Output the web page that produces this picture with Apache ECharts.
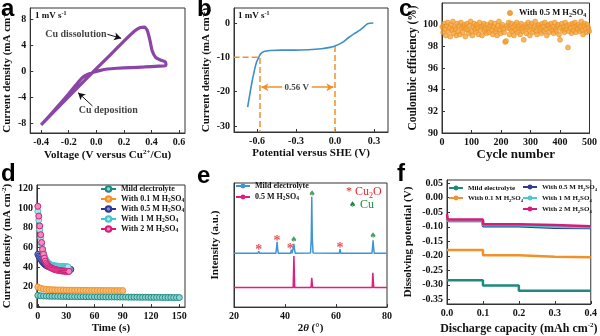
<!DOCTYPE html>
<html><head><meta charset="utf-8">
<script src="https://cdn.jsdelivr.net/npm/echarts@6/dist/echarts.min.js"></script>
<style>html,body{margin:0;padding:0;background:#fff}#c{width:600px;height:336px}</style>
</head><body><div id="c"></div>
<script>
const F='"Liberation Serif","Times New Roman",serif';
const FS='"Liberation Sans",Arial,sans-serif';

// ---------- panel a : CV loop ----------
const aForward=[[-0.4,-8.3],[-0.3,-6.1],[-0.2,-3.95],[-0.1,-1.8],[0,0.35],[0.1,2.45],[0.2,4.6],[0.28,6.2],[0.32,6.7],[0.35,6.75],[0.37,6.2],[0.39,4.6],[0.405,3.1],[0.43,2.1],[0.47,1.65],[0.5,1.4],[0.505,1.0]];
const aReverse=[[0.505,1.0],[0.5,0.8],[0.45,0.75],[0.35,0.62],[0.25,0.52],[0.15,0.42],[0.08,0.3],[0.03,0.1],[-0.02,-0.2],[-0.06,-0.5],[-0.1,-1.0],[-0.15,-2.2],[-0.2,-3.5],[-0.3,-5.95],[-0.4,-8.3]];
const aXTicks=[-0.4,-0.2,0,0.2,0.4,0.6];
const aYTicks=[-8,-4,0,4,8];
const aNotes=[{t:'Cu dissolution',p:[-0.148,5.65]},{t:'Cu deposition',p:[0.087,-6.0]}];
const aArrows=[[[0.08,5.65],[0.18,5.03]],[[-0.028,-5.38],[-0.132,-3.33]]];

// ---------- panel b : LSV ----------
const bCurve=[[-0.672,-24.5],[-0.659,-21.6],[-0.641,-17.7],[-0.623,-14.3],[-0.605,-11.6],[-0.588,-10.1],[-0.572,-9.0],[-0.546,-8.3],[-0.5,-8.0],[-0.41,-7.9],[-0.31,-7.9],[-0.205,-7.8],[-0.103,-7.5],[-0.038,-7.1],[0,-6.7],[0.051,-5.8],[0.103,-4.3],[0.149,-3.1],[0.192,-2.1],[0.226,-1.0],[0.251,-0.2],[0.295,0]];
const bGuide1=[[-0.78,-10],[-0.577,-10],[-0.577,-31.75]];
const bGuide2=[[0,-6.7],[0,-31.75]];
const bArrows=[[[-0.405,-18.7],[-0.566,-18.7]],[[-0.179,-18.7],[-0.012,-18.7]]];
const bNote={t:'0.56 V',p:[-0.295,-18.7]};
const bXTicks=[-0.6,-0.3,0,0.3];
const bYTicks=[-30,-20,-10,0];

// ---------- panel c : Coulombic efficiency (cycles 1,4,7,...,499) ----------
const cCycles=[1,4,7,10,13,16,19,22,25,28,31,34,37,40,43,46,49,52,55,58,61,64,67,70,73,76,79,82,85,88,91,94,97,100,103,106,109,112,115,118,121,124,127,130,133,136,139,142,145,148,151,154,157,160,163,166,169,172,175,178,181,184,187,190,193,196,199,202,205,208,211,214,217,220,223,226,229,232,235,238,241,244,247,250,253,256,259,262,265,268,271,274,277,280,283,286,289,292,295,298,301,304,307,310,313,316,319,322,325,328,331,334,337,340,343,346,349,352,355,358,361,364,367,370,373,376,379,382,385,388,391,394,397,400,403,406,409,412,415,418,421,424,427,430,433,436,439,442,445,448,451,454,457,460,463,466,469,472,475,478,481,484,487,490,493,496,499];
const cEff=[
99.8,99.3,100.1,99.6,99.0,99.9,100.2,99.4,99.7,98.9,
100.0,99.5,100.3,99.2,99.8,99.6,99.0,100.1,99.4,99.9,
99.1,100.2,99.7,99.3,99.8,100.0,98.9,99.6,100.1,99.5,
99.2,99.9,100.3,99.4,99.0,99.8,100.1,99.6,99.3,100.0,
99.7,99.1,100.2,99.5,99.8,99.0,99.9,100.1,99.4,99.6,
99.2,100.0,99.7,99.3,99.9,100.2,99.5,99.1,99.8,100.1,
99.4,99.6,99.0,99.9,100.3,99.5,99.2,99.8,100.0,99.6,
99.3,98.4,98.5,99.9,99.7,100.2,99.1,99.6,100.1,99.4,
99.8,99.0,100.0,99.5,100.2,99.3,99.7,99.9,99.1,100.1,
99.6,99.4,98.6,99.8,100.0,99.2,99.7,100.2,99.5,99.0,
99.9,100.1,99.3,99.6,99.8,100.3,99.4,99.1,99.9,100.0,
99.5,99.7,99.2,100.1,99.8,99.4,100.2,99.6,99.0,99.9,
100.0,99.3,99.7,100.1,99.5,99.8,99.2,100.2,99.6,99.4,
99.9,100.0,99.1,98.6,99.7,100.1,99.5,99.8,99.3,100.2,
99.6,99.9,97.9,99.4,100.0,99.7,99.2,100.1,99.5,99.8,
100.2,99.3,99.9,99.6,100.0,99.4,99.8,100.3,99.5,99.1,
99.9,100.1,99.6,99.3,100.0,99.7,99.4];
const cXTicks=[0,100,200,300,400,500];
const cYTicks=[90,92,94,96,98,100];

// ---------- panel d : chronoamperometry ----------
const dTime1=[0,1,2,3,4,5,6,7,8,9,10,11,12,13,14,15,16,17,18,19,20,21,22,23,24,25,26,27,28,29,30,31,32,33,34,35];
const dTime3=[0,3,6,9,12,15,18,21,24,27,30,33,36,39,42,45,48,51,54,57,60,63,66,69,72,75,78,81,84,87,90,93,96,99,102,105,108,111,114,117,120,123,126,129,132,135,138,141,144,147,150];
const dMild=[11.0,10.6,10.4,10.3,10.2,10.1,10.1,10.0,10.0,9.9,9.9,9.8,9.8,9.8,9.7,9.7,9.7,9.6,9.6,9.6,9.5,9.5,9.5,9.5,9.4,9.4,9.4,9.4,9.3,9.3,9.3,9.3,9.2,9.2,9.2,9.2,9.1,9.1,9.1,9.1,9.0,9.0,9.0,9.0,8.9,8.9,8.9,8.9,8.8,8.8,8.8];
const d01=[19.5,18.3,17.6,17.2,17.0,16.8,16.7,16.6,16.5,16.5,16.4,16.4,16.3,16.3,16.3,16.2,16.2,16.2,16.1,16.1,16.1,16.1,16.0,16.0,16.0,16.0,16.0,15.9,15.9,15.9,15.9];
const d05=[53,51,49.5,48,46.5,45.2,44,43,42.2,41.5,41,40.5,40.1,39.8,39.5,39.2,39,38.8,38.6,38.5,38.4,38.3,38.2,38.1,38,37.9,37.9,37.8,37.8,37.7,37.7,37.6,37.6,37.5,37.5,37.5];
const d1=[97,88,78,70,63,58,54,51,48.5,46.5,45,44,43.2,42.6,42.1,41.8,41.5,41.3,41.1,41,40.9,40.8,40.7,40.6,40.5,40.5,40.4,40.4,40.3,40.3,40.2,40.2,40.1];
const d2=[102,92,82,73,65,58,53,49,46,44,42.5,41.5,40.5,39.8,39.2,38.7,38.2,37.8,37.5,37.2,37,36.8,36.6,36.4,36.2,36.1,36,35.9,35.8,35.7,35.6,35.6,35.5,35.5];
const dXTicks=[0,30,60,90,120,150];
const dYTicks=[0,20,40,60,80,100,120];

// ---------- panel e : XRD ----------
const eBlueX=[20,29.3,29.7,30.1,36.4,36.7,36.9,37.1,37.4,42.2,42.5,42.8,43.2,43.5,43.7,44.0,50.0,50.3,50.5,50.7,51.0,61.3,61.6,61.9,74.1,74.4,74.55,74.7,75.0,80];
const eBlueY=[43.3,43.3,45.0,43.3,43.3,48,52.7,47,43.3,43.3,46.2,43.3,43.5,51.0,47,43.3,43.6,55,89,55,43.6,43.3,46.7,43.3,43.3,50,53.8,49,43.3,43.3];
const eMagX=[20,43.2,43.5,43.8,50.2,50.5,50.8,74.2,74.45,74.6,74.8,80];
const eMagY=[15.7,15.7,41.2,15.7,15.7,23.6,15.7,15.7,27.6,22,15.7,15.7];
const eCu2O=[[29.7,47.8],[36.9,55],[42.1,48.6],[61.6,49.8]];
const eCu=[[43.5,54.3],[50.6,91.3],[74.5,57.2]];
const eXTicks=[20,40,60,80];

// ---------- panel f : dissolving potential ----------
const fX=[0,0.1,0.2,0.3,0.4];
const fMild=[-0.284,-0.302,-0.32,-0.32,-0.32];
const f01=[-0.18,-0.198,-0.203,-0.205,-0.205];
const f05=[-0.08,-0.098,-0.103,-0.104,-0.104];
const f1=[-0.078,-0.095,-0.1,-0.102,-0.102];
const f2=[-0.075,-0.091,-0.094,-0.098,-0.098];
const f2Start=[[0,-0.056],[0.002,-0.075]];
const fXTicks=[0,0.1,0.2,0.3,0.4];
const fYTicks=[0.05,0,-0.05,-0.1,-0.15,-0.2,-0.25,-0.3,-0.35];

const COL={mild:'#1f8a84',o:'#f0922b',navy:'#2c3690',cyan:'#45c3cc',mag:'#d61c78'};
const zip=(xs,ys)=>ys.map((y,i)=>[xs[i],y]);

const RICH={sup:{fontSize:7,verticalAlign:'top',fontFamily:F,fontWeight:'bold',color:'#111',lineHeight:13},
            sub:{fontSize:6,verticalAlign:'bottom',fontFamily:F,fontWeight:'bold',color:'#111',lineHeight:11},
            it:{fontStyle:'italic',fontFamily:F,fontWeight:'bold',fontSize:11,color:'#111'}};

function ax(gi,min,max,ticks,fmt,name,gap,fs,extra){
  return Object.assign({type:'value',gridIndex:gi,min:min,max:max,
    axisLine:{show:true,onZero:false,lineStyle:{color:'#333',width:1}},
    axisTick:{show:true,inside:true,length:3,customValues:ticks,lineStyle:{color:'#333'}},
    axisLabel:{show:true,customValues:ticks,formatter:fmt,fontFamily:F,fontWeight:'bold',fontSize:10,color:'#111',margin:4},
    splitLine:{show:false},
    name:name,nameLocation:'middle',nameGap:gap,
    nameTextStyle:{fontFamily:F,fontWeight:'bold',fontSize:fs||11,color:'#111',lineHeight:13,rich:RICH}},extra||{});
}
const f1d=v=>v.toFixed(1), f0=v=>String(Math.round(v)), f2d=v=>v.toFixed(2);

function legText(fs){return {fontFamily:F,fontWeight:'bold',fontSize:fs,color:'#111',lineHeight:10,
  rich:{sub:{fontSize:fs-2.5,verticalAlign:'bottom',fontFamily:F,fontWeight:'bold',color:'#111',lineHeight:10}}};}
const legFmt=n=>n.split(':')[1].replace('H2SO4','H{sub|2}SO{sub|4}');

function guide(xi,data,color,type,w){return {type:'line',xAxisIndex:xi,yAxisIndex:xi,data:data,showSymbol:false,symbol:'none',silent:true,lineStyle:{color:color,type:type,width:w},z:3};}
function arrows(xi,list,color,w){return {type:'scatter',xAxisIndex:xi,yAxisIndex:xi,data:[],silent:true,
  markLine:{silent:true,symbol:['none','arrow'],symbolSize:[6,7],label:{show:false},lineStyle:{color:color,type:'solid',width:w},
  data:list.map(s=>[{coord:s[0]},{coord:s[1]}]),animation:false}};}
function notes(xi,list,size,color){return {type:'scatter',xAxisIndex:xi,yAxisIndex:xi,symbolSize:0,silent:true,
  data:list.map(n=>({value:n.p,label:{formatter:n.t}})),
  label:{show:true,position:'inside',fontFamily:F,fontWeight:'bold',fontSize:size,color:color}};}
function dSeries(name,xs,ys,fill,stroke){return {name:name,type:'line',xAxisIndex:3,yAxisIndex:3,data:zip(xs,ys),
  symbol:'circle',symbolSize:6,showSymbol:true,lineStyle:{color:stroke,width:1},
  itemStyle:{color:fill,borderColor:stroke,borderWidth:1}};}
function fSeries(name,ys,color){return {name:name,type:'line',xAxisIndex:5,yAxisIndex:5,data:zip(fX,ys),step:'end',
  symbol:'none',lineStyle:{color:color,width:2.5},itemStyle:{color:color}};}

const grids=[
  {left:29,top:8,width:156,height:125},
  {left:234,top:8,width:154,height:124},
  {left:442,top:3,width:148,height:130},
  {left:29,top:185,width:156,height:130},
  {left:234,top:183,width:153,height:127},
  {left:447,top:180,width:145,height:128}
].map(g=>Object.assign(g,{show:true,borderColor:'#333',borderWidth:1,backgroundColor:'transparent'}));

const option={
  animation:false,
  grid:grids,
  xAxis:[
    ax(0,-0.479,0.643,aXTicks,f1d,'Voltage (V versus Cu{sup|2+}/Cu)',16),
    ax(1,-0.777,0.408,bXTicks,f1d,'Potential versus SHE (V)',13),
    ax(2,0,500,cXTicks,f0,'Cycle number',14,13),
    ax(3,-1,156,dXTicks,f0,'Time (s)',8),
    ax(4,20,80,eXTicks,f0,'2{it|θ} (°)',14),
    ax(5,0,0.4,fXTicks,f1d,'Discharge capacity (mAh cm{sup|-2})',18,12)
  ],
  yAxis:[
    ax(0,-9.54,9.69,aYTicks,f0,'Current density (mA cm{sup|-2})',15),
    ax(1,-31.75,4.37,bYTicks,f0,'Current density (mA cm{sup|-2})',15),
    ax(2,90,102,cYTicks,f0,'Coulombic efficiency (%)',16,11.5),
    ax(3,-0.96,123.8,dYTicks,f0,'Current density (mA cm{sup|-2})',17),
    ax(4,0,100,[],f0,'Intensity (a.u.)',12,11,{axisLabel:{show:false},axisTick:{show:false}}),
    ax(5,-0.3657,0.061,fYTicks,f2d,'Dissolving potential (V)',32)
  ],
  legend:[
    {data:['d:Mild electrolyte','d:With 0.1 M H2SO4','d:With 0.5 M H2SO4','d:With 1 M H2SO4','d:With 2 M H2SO4'],
     left:100,top:184,orient:'vertical',itemWidth:15,itemHeight:7,itemGap:0,padding:0,formatter:legFmt,textStyle:legText(8)},
    {data:['e:Mild electrolyte','e:0.5 M H2SO4'],left:235,top:181,orient:'vertical',itemWidth:14,itemHeight:6,itemGap:1,padding:0,formatter:legFmt,textStyle:legText(8)},
    {data:['f:Mild electrolyte','f:With 0.1 M H2SO4'],left:448,top:183,orient:'vertical',itemWidth:14,itemHeight:6,itemGap:0,padding:0,formatter:legFmt,textStyle:legText(7)},
    {data:['f:With 0.5 M H2SO4','f:With 1 M H2SO4','f:With 2 M H2SO4'],left:522,top:182,orient:'vertical',itemWidth:14,itemHeight:6,itemGap:1,padding:0,formatter:legFmt,textStyle:legText(7)}
  ],
  series:[
    // a
    {type:'line',xAxisIndex:0,yAxisIndex:0,data:aForward.concat(aReverse),showSymbol:false,symbol:'none',smooth:0.2,lineStyle:{color:'#8b45a6',width:3.2}},
    arrows(0,aArrows,'#111',1),
    notes(0,aNotes,10,'#111'),
    // b
    guide(1,bGuide1,'#f0902a','dashed',1.5),
    guide(1,bGuide2,'#f0902a','dashed',1.5),
    {type:'line',xAxisIndex:1,yAxisIndex:1,data:bCurve,showSymbol:false,symbol:'none',smooth:0.3,lineStyle:{color:'#3d8ec9',width:1.6},z:4},
    arrows(1,bArrows,'#f0902a',1.5),
    notes(1,[bNote],9,'#111'),
    // c
    {name:'c:With 0.5 M H2SO4',type:'scatter',xAxisIndex:2,yAxisIndex:2,data:zip(cCycles,cEff),symbolSize:5,
     itemStyle:{color:'#f5a23a',borderColor:'#e4881c',borderWidth:0.6}},
    // d
    dSeries('d:Mild electrolyte',dTime3,dMild,'#8fd3cf',COL.mild),
    dSeries('d:With 0.1 M H2SO4',dTime3,d01,'#f8bb74',COL.o),
    dSeries('d:With 0.5 M H2SO4',dTime1,d05,'#8088cc',COL.navy),
    dSeries('d:With 1 M H2SO4',dTime1,d1,'#a6e8ec',COL.cyan),
    dSeries('d:With 2 M H2SO4',dTime1,d2,'#f08cc0',COL.mag),
    // e
    {name:'e:Mild electrolyte',type:'line',xAxisIndex:4,yAxisIndex:4,data:zip(eBlueX,eBlueY),symbol:'none',lineStyle:{color:'#3f95d3',width:1.5},itemStyle:{color:'#3f95d3'}},
    {name:'e:0.5 M H2SO4',type:'line',xAxisIndex:4,yAxisIndex:4,data:zip(eMagX,eMagY),symbol:'none',lineStyle:{color:'#df1f7c',width:1.5},itemStyle:{color:'#df1f7c'}},
    {type:'scatter',xAxisIndex:4,yAxisIndex:4,data:eCu2O,symbolSize:0,silent:true,
     label:{show:true,position:'inside',formatter:'*',fontFamily:F,fontWeight:'bold',fontSize:14,color:'#e3262a',offset:[0,3]}},
    {type:'scatter',xAxisIndex:4,yAxisIndex:4,data:eCu,symbolSize:0,silent:true,
     label:{show:true,position:'inside',formatter:'♠',fontFamily:'"DejaVu Sans"',fontSize:8,color:'#1d8a3e'}},
    // f
    fSeries('f:Mild electrolyte',fMild,'#1d8a80'),
    fSeries('f:With 0.1 M H2SO4',f01,'#f0922b'),
    fSeries('f:With 0.5 M H2SO4',f05,'#2f3c92'),
    fSeries('f:With 1 M H2SO4',f1,'#4cc8cf'),
    fSeries('f:With 2 M H2SO4',f2,'#d61c78'),
    {type:'line',xAxisIndex:5,yAxisIndex:5,data:f2Start,symbol:'none',silent:true,lineStyle:{color:'#d61c78',width:2.5}}
  ],
  graphic:[
    {type:'text',style:{x:1,y:9,text:'a',font:'bold 24px '+FS,fill:'#000',verticalAlign:'middle'}},
    {type:'text',style:{x:197,y:9,text:'b',font:'bold 24px '+FS,fill:'#000',verticalAlign:'middle'}},
    {type:'text',style:{x:399,y:9,text:'c',font:'bold 24px '+FS,fill:'#000',verticalAlign:'middle'}},
    {type:'text',style:{x:1,y:174,text:'d',font:'bold 24px '+FS,fill:'#000',verticalAlign:'middle'}},
    {type:'text',style:{x:197,y:176,text:'e',font:'bold 24px '+FS,fill:'#000',verticalAlign:'middle'}},
    {type:'text',style:{x:397,y:174,text:'f',font:'bold 24px '+FS,fill:'#000',verticalAlign:'middle'}},
    {type:'text',style:{x:35,y:16,text:'1 mV s{sup|-1}',font:'bold 9px '+F,fill:'#111',verticalAlign:'middle',
      rich:{sup:{fontSize:6,verticalAlign:'top',fontFamily:F,fontWeight:'bold',lineHeight:12}}}},
    {type:'text',style:{x:238,y:16,text:'1 mV s{sup|-1}',font:'bold 9px '+F,fill:'#111',verticalAlign:'middle',
      rich:{sup:{fontSize:6,verticalAlign:'top',fontFamily:F,fontWeight:'bold',lineHeight:12}}}},
    // panel c legend
    {type:'circle',shape:{cx:510,cy:13,r:2.6},style:{fill:'#f5a23a',stroke:'#e4881c',lineWidth:0.6}},
    {type:'text',style:{x:519,y:13,text:'With 0.5 M H{sub|2}SO{sub|4}',font:'bold 8.5px '+F,fill:'#111',verticalAlign:'middle',
      rich:{sub:{fontSize:6,verticalAlign:'bottom',fontFamily:F,fontWeight:'bold',lineHeight:11}}}},
    // panel e phase key
    {type:'text',style:{x:346,y:192,text:'* Cu{sub|2}O',font:'12px '+F,fill:'#e3262a',verticalAlign:'middle',
      rich:{sub:{fontSize:8,verticalAlign:'bottom',fontFamily:F,fill:'#e3262a',lineHeight:16}}}},
    {type:'text',style:{x:349,y:205,text:'♠',font:'8px "DejaVu Sans"',fill:'#1d8a3e',verticalAlign:'middle'}},
    {type:'text',style:{x:360,y:205,text:'Cu',font:'12px '+F,fill:'#1d8a3e',verticalAlign:'middle'}}
  ]
};
const chart=echarts.init(document.getElementById('c'),null,{renderer:'canvas'});
chart.setOption(option);
</script></body></html>
